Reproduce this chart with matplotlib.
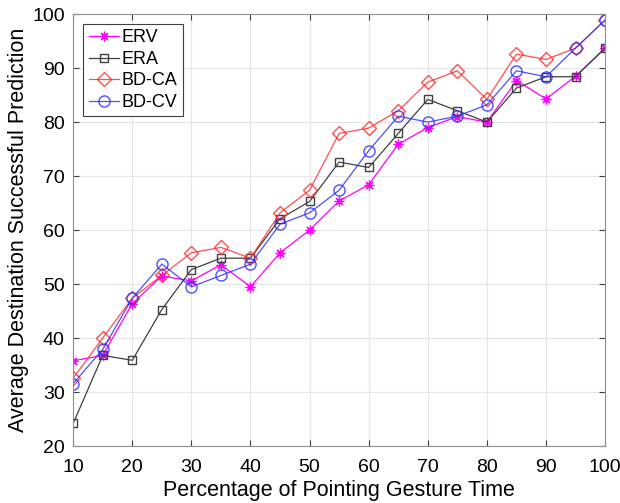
import numpy as np
import matplotlib.pyplot as plt

plt.rcParams['font.family'] = ['Liberation Sans', 'DejaVu Sans']

# percentage of pointing gesture time
pct = [10, 15, 20, 25, 30, 35, 40, 45, 50, 55, 60, 65, 70, 75, 80, 85, 90, 95, 100]

erv = [35.8, 36.8, 46.4, 51.5, 50.6, 53.6, 49.5, 55.8, 60.0, 65.4, 68.4, 75.9,
       79.0, 81.0, 80.0, 87.7, 84.3, 88.5, 93.7]
era = [24.2, 36.8, 35.9, 45.3, 52.7, 54.8, 54.8, 62.1, 65.3, 72.6, 71.6, 77.9,
       84.2, 82.1, 80.0, 86.3, 88.4, 88.4, 93.7]
bdca = [32.6, 40.0, 47.4, 51.6, 55.8, 56.8, 54.8, 63.2, 67.4, 77.9, 78.9, 82.1,
        87.4, 89.5, 84.2, 92.6, 91.6, 93.7, 98.9]
bdcv = [31.6, 37.9, 47.4, 53.7, 49.5, 51.6, 53.7, 61.1, 63.2, 67.4, 74.7, 81.1,
        80.0, 81.1, 83.2, 89.5, 88.4, 93.7, 98.9]

fig = plt.figure(figsize=(6.2, 5.03), dpi=100)
ax = fig.add_axes([0.118, 0.113, 0.858, 0.859])

ax.plot(pct, erv, '-', marker=(8, 2, 0), color='#ff00ff', lw=0.9, ms=7, mew=0.9, label='ERV')
ax.plot(pct, era, '-s', color='#404040', lw=0.9, ms=6, mfc='none', mew=1, label='ERA')
ax.plot(pct, bdca, '-D', color='#ff3030', lw=0.9, ms=7, mfc='none', mew=1, alpha=0.85, label='BD-CA')
ax.plot(pct, bdcv, '-o', color='#3030ff', lw=0.9, ms=8, mfc='none', mew=1, alpha=0.85, label='BD-CV')

ax.set_xlim(10, 100)
ax.set_ylim(20, 100)
ax.set_xticks(np.arange(10, 101, 10))
ax.set_yticks(np.arange(20, 101, 10))
ax.grid(True, color='#e6e6e6', lw=0.8)
ax.tick_params(direction='in', labelsize=14, top=True, right=True, length=4, color='#404040')
ax.tick_params(axis='x', pad=9)
ax.tick_params(axis='y', pad=6)
for s in ax.spines.values():
    s.set_color('#909090')

ax.set_xlabel('Percentage of Pointing Gesture Time', fontsize=15.5, labelpad=3)
ax.set_ylabel('Average Destination Successful Prediction', fontsize=15.5, labelpad=2)

leg = ax.legend(loc='upper left', fontsize=13, fancybox=False, framealpha=1,
                edgecolor='#404040', borderaxespad=0.55, handlelength=1.7,
                handletextpad=0.15, labelspacing=0.25, borderpad=0.3)
leg.get_frame().set_linewidth(0.8)

fig.savefig('out.png', dpi=100)
